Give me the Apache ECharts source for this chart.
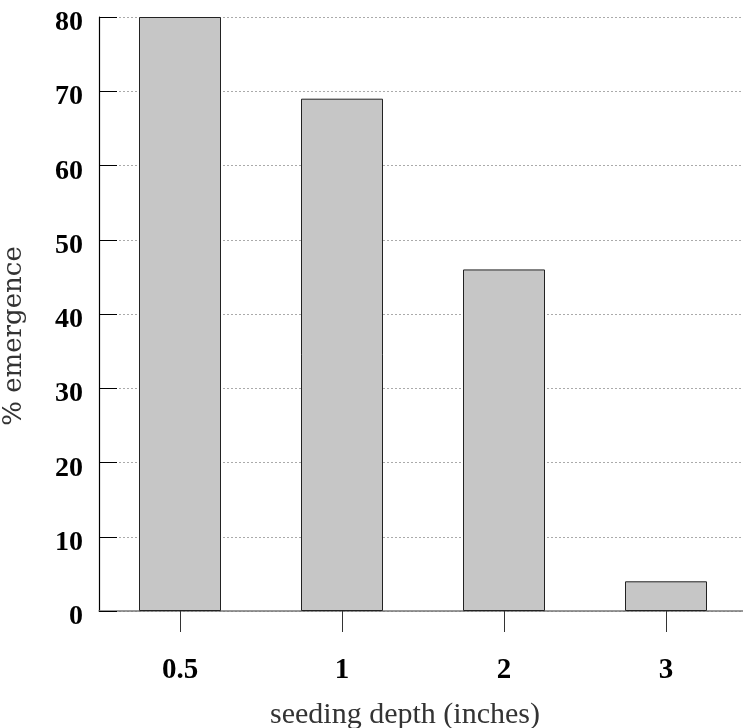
<!DOCTYPE html>
<html>
<head>
<meta charset="utf-8">
<script src="https://cdn.jsdelivr.net/npm/echarts@6/dist/echarts.min.js"></script>
<style>
  html, body { margin: 0; padding: 0; background: #fff; }
  #chart { width: 743px; height: 728px; }
</style>
</head>
<body>
<div id="chart"></div>
<script>
// seeding depth categories and % emergence
var depths = ['0.5', '1', '2', '3'];
var emergence = [80, 69, 46, 4];

var chart = echarts.init(document.getElementById('chart'));
chart.setOption({
  animation: false,
  grid: { left: 99, top: 17, width: 648, height: 594, outerBoundsMode: 'none', containLabel: false },
  xAxis: {
    type: 'category',
    data: depths,
    name: 'seeding depth (inches)',
    nameLocation: 'middle',
    nameGap: 89,
    nameTextStyle: { fontFamily: 'Liberation Serif', fontSize: 30, color: '#333', padding: [0, 36, 0, 0] },
    axisLine: { lineStyle: { color: '#777', width: 1.5 } },
    axisTick: { show: true, alignWithLabel: true, length: 21, lineStyle: { color: '#333' } },
    axisLabel: { margin: 45, fontFamily: 'Liberation Serif', fontWeight: 'bold', fontSize: 29, color: '#000' }
  },
  yAxis: {
    type: 'value',
    min: 0, max: 80, interval: 10,
    name: '% emergence',
    nameLocation: 'middle',
    nameGap: 72,
    nameTextStyle: { fontFamily: 'DejaVu Serif', fontSize: 26, color: '#333', padding: [0, 44, 0, 0] },
    axisLine: { show: true, lineStyle: { color: '#000', width: 1.2 } },
    axisTick: { show: true, inside: true, length: 18, lineStyle: { color: '#000' } },
    axisLabel: { margin: 16, verticalAlign: 'top', lineHeight: 12, fontFamily: 'Liberation Serif', fontWeight: 'bold', fontSize: 28, color: '#000' },
    splitLine: { show: true, lineStyle: { color: '#aaa', type: [2, 2], width: 1 } }
  },
  series: [{
    type: 'bar',
    data: emergence,
    barWidth: 82,
    itemStyle: { color: '#c6c6c6', borderColor: '#222', borderWidth: 1 }
  }]
});
</script>
</body>
</html>
